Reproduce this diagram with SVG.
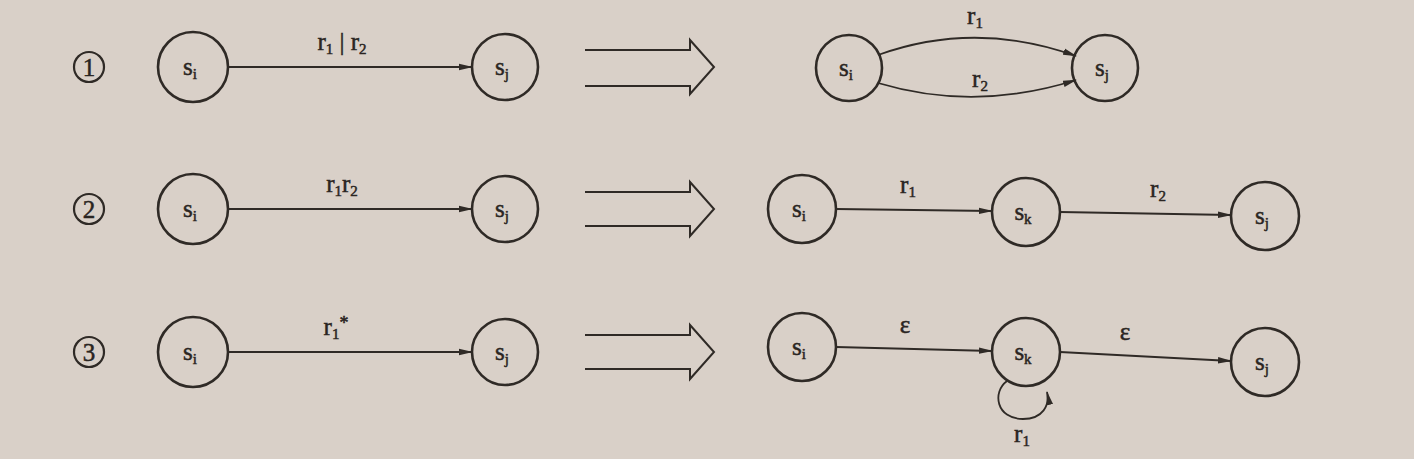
<svg xmlns="http://www.w3.org/2000/svg" width="1414" height="459" viewBox="0 0 1414 459">
<defs>
<marker id="ah" viewBox="0 0 14 8" refX="13" refY="4" markerWidth="14" markerHeight="8" markerUnits="userSpaceOnUse" orient="auto">
<path d="M0,0.8 L14,4 L0,7.2 z" fill="#2f2a26"/>
</marker>
</defs>
<style>
.st{fill:none;stroke:#2f2a26;stroke-width:2.6}
.num{fill:none;stroke:#2f2a26;stroke-width:2.2}
.ed{fill:none;stroke:#2f2a26;stroke-width:1.8}
.big{fill:none;stroke:#2f2a26;stroke-width:2}
text{font-family:"Liberation Serif","DejaVu Serif",serif;fill:#2a2522;stroke:#2a2522;stroke-width:0.5}
.lb{font-size:25px;text-anchor:middle}
.sb{font-size:15px}
.nt{font-size:25px;text-anchor:middle}
</style>
<rect width="1414" height="459" fill="#d9d0c8"/>
<g id="num1"><circle class="num" cx="89" cy="67" r="15"/><text class="nt" x="89" y="76">1</text></g>
<g id="num2"><circle class="num" cx="89" cy="209" r="15"/><text class="nt" x="89" y="218">2</text></g>
<g id="num3"><circle class="num" cx="89" cy="352" r="15"/><text class="nt" x="89" y="361">3</text></g>

<g id="r1-si"><circle class="st" cx="193" cy="67" r="35"/><text class="lb" x="190" y="75">s<tspan class="sb" dy="4">i</tspan></text></g>
<g id="r1-sj"><circle class="st" cx="505" cy="67" r="33"/><text class="lb" x="502" y="75">s<tspan class="sb" dy="4">j</tspan></text></g>
<g id="r2-si"><circle class="st" cx="193" cy="209" r="35"/><text class="lb" x="190" y="217">s<tspan class="sb" dy="4">i</tspan></text></g>
<g id="r2-sj"><circle class="st" cx="505" cy="209" r="33"/><text class="lb" x="502" y="217">s<tspan class="sb" dy="4">j</tspan></text></g>
<g id="r3-si"><circle class="st" cx="193" cy="352" r="35"/><text class="lb" x="190" y="360">s<tspan class="sb" dy="4">i</tspan></text></g>
<g id="r3-sj"><circle class="st" cx="505" cy="352" r="33"/><text class="lb" x="502" y="360">s<tspan class="sb" dy="4">j</tspan></text></g>

<g id="a1-si"><circle class="st" cx="849" cy="68" r="33"/><text class="lb" x="846" y="76">s<tspan class="sb" dy="4">i</tspan></text></g>
<g id="a1-sj"><circle class="st" cx="1105" cy="68" r="33"/><text class="lb" x="1102" y="76">s<tspan class="sb" dy="4">j</tspan></text></g>

<g id="a2-si"><circle class="st" cx="802" cy="209" r="34"/><text class="lb" x="799" y="217">s<tspan class="sb" dy="4">i</tspan></text></g>
<g id="a2-sk"><circle class="st" cx="1026" cy="212" r="34"/><text class="lb" x="1023" y="220">s<tspan class="sb" dy="4">k</tspan></text></g>
<g id="a2-sj"><circle class="st" cx="1265" cy="216" r="34"/><text class="lb" x="1262" y="224">s<tspan class="sb" dy="4">j</tspan></text></g>

<g id="a3-si"><circle class="st" cx="802" cy="347" r="34"/><text class="lb" x="799" y="355">s<tspan class="sb" dy="4">i</tspan></text></g>
<g id="a3-sk"><circle class="st" cx="1026" cy="352" r="34"/><text class="lb" x="1023" y="360">s<tspan class="sb" dy="4">k</tspan></text></g>
<g id="a3-sj"><circle class="st" cx="1265" cy="362" r="34"/><text class="lb" x="1262" y="370">s<tspan class="sb" dy="4">j</tspan></text></g>

<g id="connectors">
<line class="ed" x1="228" y1="67" x2="472" y2="67" marker-end="url(#ah)"/>
<line class="ed" x1="228" y1="209" x2="472" y2="209" marker-end="url(#ah)"/>
<line class="ed" x1="228" y1="352" x2="472" y2="352" marker-end="url(#ah)"/>

<path class="ed" d="M878,55 Q975,20 1076,56" marker-end="url(#ah)"/>
<path class="ed" d="M878,83 Q975,112 1076,80" marker-end="url(#ah)"/>

<line class="ed" x1="836" y1="209" x2="992" y2="211" marker-end="url(#ah)"/>
<line class="ed" x1="1060" y1="212" x2="1231" y2="215" marker-end="url(#ah)"/>

<line class="ed" x1="836" y1="347" x2="992" y2="351" marker-end="url(#ah)"/>
<line class="ed" x1="1060" y1="352" x2="1231" y2="361" marker-end="url(#ah)"/>
<path class="ed" d="M1007,381 C992,392 996,419 1023,419 C1043,419 1050,405 1047,392" marker-end="url(#ah)"/>

<path class="big" d="M585,50 L690,50 L690,40 L714,67 L690,94 L690,86 L585,86"/>
<path class="big" d="M585,192 L690,192 L690,182 L714,209 L690,236 L690,226 L585,226"/>
<path class="big" d="M585,335 L690,335 L690,325 L714,352 L690,379 L690,369 L585,369"/>
</g>

<g id="labels">
<text class="lb" x="342" y="50">r<tspan class="sb" dy="4">1</tspan><tspan dy="-4"> | r</tspan><tspan class="sb" dy="4">2</tspan></text>
<text class="lb" x="342" y="192">r<tspan class="sb" dy="4">1</tspan><tspan dy="-4">r</tspan><tspan class="sb" dy="4">2</tspan></text>
<text class="lb" x="336" y="335">r<tspan class="sb" dy="4">1</tspan><tspan dy="-10" font-size="18">*</tspan></text>
<text class="lb" x="975" y="24">r<tspan class="sb" dy="4">1</tspan></text>
<text class="lb" x="980" y="87">r<tspan class="sb" dy="4">2</tspan></text>
<text class="lb" x="908" y="193">r<tspan class="sb" dy="4">1</tspan></text>
<text class="lb" x="1158" y="197">r<tspan class="sb" dy="4">2</tspan></text>
<text class="lb" x="905" y="333">ε</text>
<text class="lb" x="1125" y="340">ε</text>
<text class="lb" x="1022" y="442">r<tspan class="sb" dy="4">1</tspan></text>
</g>
</svg>
